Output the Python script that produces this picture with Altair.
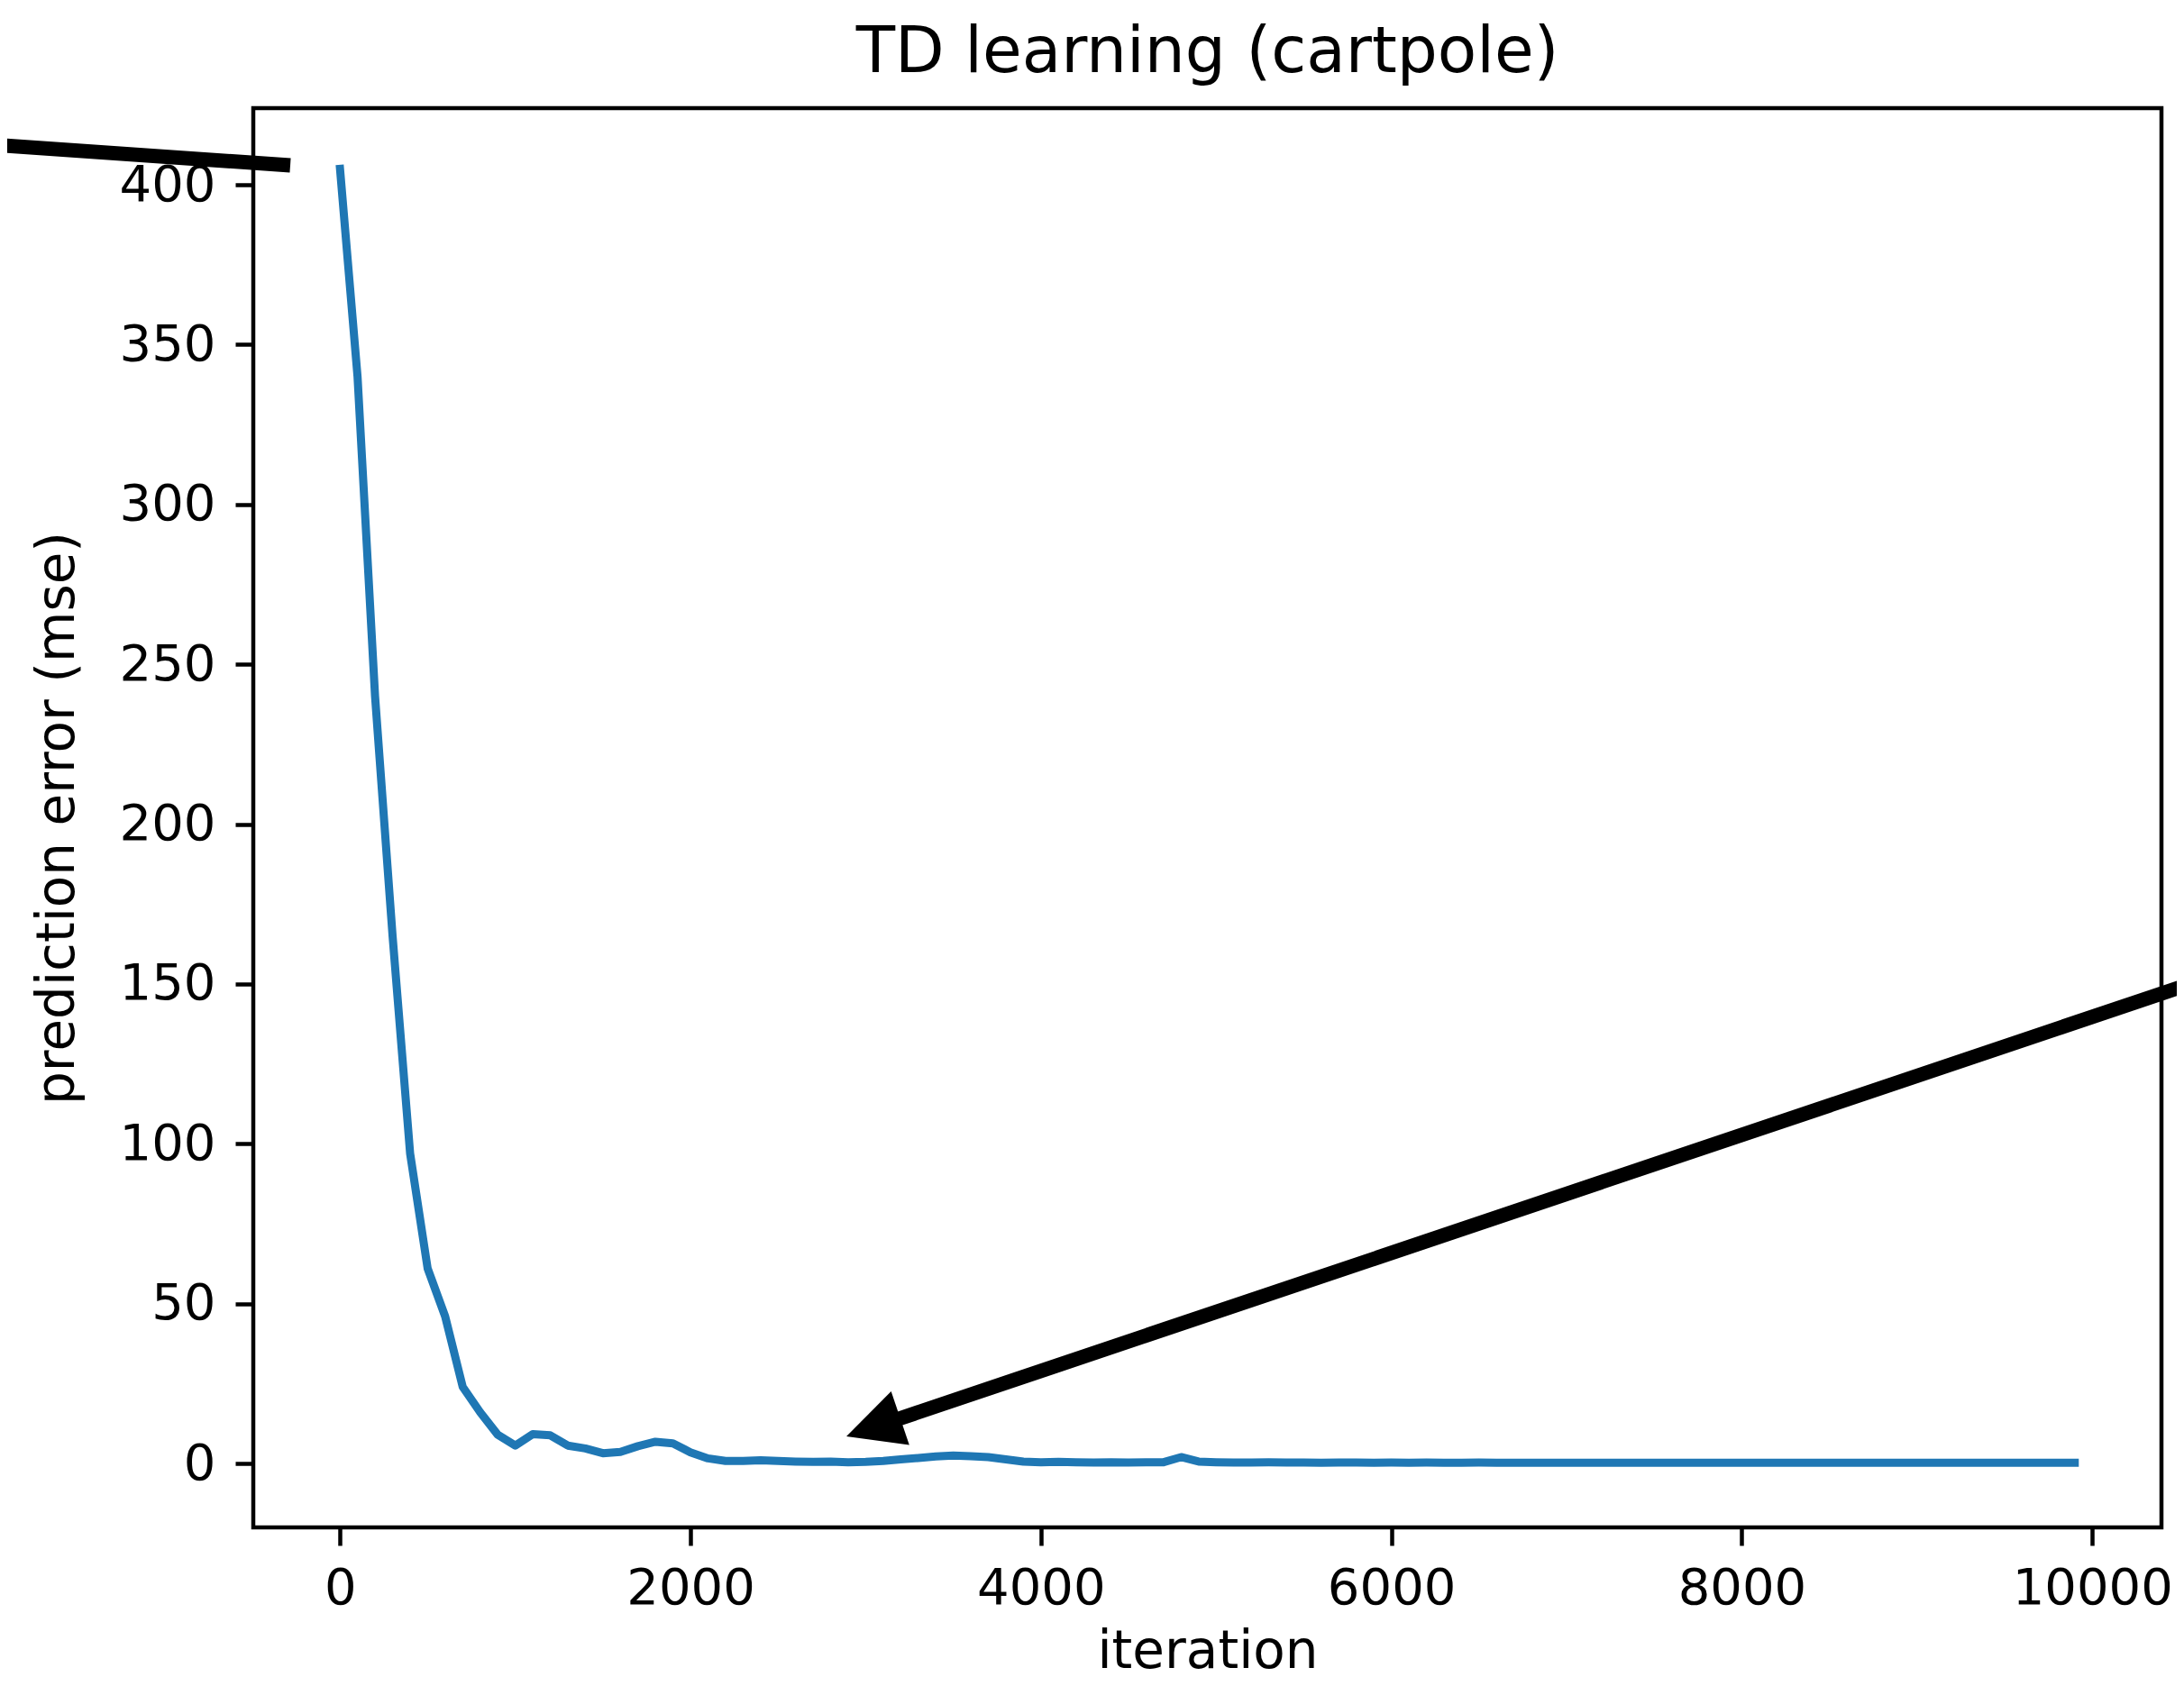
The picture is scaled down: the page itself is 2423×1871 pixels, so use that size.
import altair as alt
import pandas as pd

# ---- data ----
iterations = list(range(0, 10000, 100))
mse = [
    405, 340, 240, 165, 97, 61, 46, 24, 16, 9,
    5.6, 9.2, 8.8, 5.6, 4.7, 3.2, 3.6, 5.4, 6.8, 6.3,
    3.5, 1.6, 0.8, 0.8, 1.0, 0.8, 0.6, 0.5, 0.6, 0.4,
    0.5, 0.8, 1.3, 1.7, 2.2, 2.5, 2.3, 2.0, 1.3, 0.6,
    0.4, 0.5, 0.4, 0.3, 0.4, 0.3, 0.4, 0.4, 2.0, 0.6,
    0.4, 0.3, 0.3, 0.35, 0.3, 0.3, 0.25, 0.3, 0.3, 0.25,
    0.3, 0.25, 0.3, 0.25, 0.25, 0.3, 0.25, 0.25, 0.2, 0.25,
    0.25, 0.2, 0.25, 0.2, 0.25, 0.2, 0.2, 0.25, 0.2, 0.2,
    0.2, 0.25, 0.2, 0.2, 0.2, 0.2, 0.25, 0.2, 0.2, 0.2,
    0.2, 0.2, 0.2, 0.2, 0.2, 0.2, 0.2, 0.2, 0.2, 0.2,
]

x_ticks = [0, 2000, 4000, 6000, 8000, 10000]
y_ticks = [0, 50, 100, 150, 200, 250, 300, 350, 400]

# annotation arrows, in data units (iteration, mse)
shaft_x = [-2146, 10611]
shaft_y = [413.2, 151.0]
shaft_x2 = [-284, 3147]
shaft_y2 = [406.1, 13.2]
head_x = [2890]
head_y = [8.5]

FONT = "DejaVu Sans"

line_df = pd.DataFrame({"iteration": iterations, "mse": mse})
shaft_df = pd.DataFrame({"iteration": shaft_x, "mse": shaft_y,
                         "iteration2": shaft_x2, "mse2": shaft_y2})
head_df = pd.DataFrame({"iteration": head_x, "mse": head_y})

xscale = alt.Scale(domain=[-495, 10395], nice=False, zero=False)
yscale = alt.Scale(domain=[-20, 424], nice=False, zero=False)

xaxis = alt.Axis(
    values=x_ticks, format="d", grid=False, domain=False,
    labelFont=FONT, labelFontSize=56, labelColor="black", labelPadding=20,
    tickSize=20, tickWidth=4.5, tickColor="black",
    title="iteration", titleFont=FONT, titleFontSize=58,
    titleFontWeight="normal", titleColor="black",
    titleBaseline="alphabetic", titleY=155,
)
yaxis = alt.Axis(
    values=y_ticks, format="d", grid=False, domain=False,
    labelFont=FONT, labelFontSize=56, labelColor="black", labelPadding=22,
    tickSize=20, tickWidth=4.5, tickColor="black",
    title="prediction error (mse)", titleFont=FONT, titleFontSize=58,
    titleFontWeight="normal", titleColor="black",
    titleBaseline="alphabetic", titleAngle=270, titleX=-200, titleY=787.5,
)

line = alt.Chart(line_df).mark_line(
    color="#1f77b4", strokeWidth=9, strokeCap="square", strokeJoin="round"
).encode(
    x=alt.X("iteration:Q", scale=xscale, axis=xaxis),
    y=alt.Y("mse:Q", scale=yscale, axis=yaxis),
)

shafts = alt.Chart(shaft_df).mark_rule(
    color="black", strokeWidth=16, strokeCap="butt"
).encode(
    x=alt.X("iteration:Q", scale=xscale),
    y=alt.Y("mse:Q", scale=yscale),
    x2="iteration2:Q",
    y2="mse2:Q",
)

head = alt.Chart(head_df).mark_point(
    shape="M0,0L2,-1L2,1Z", size=3969, filled=True, color="black",
    opacity=1, strokeWidth=0, angle=341.35
).encode(
    x=alt.X("iteration:Q", scale=xscale),
    y=alt.Y("mse:Q", scale=yscale),
)

chart = alt.layer(line, shafts, head).properties(
    width=2117,
    height=1575,
    autosize=alt.AutoSizeParams(type="none"),
    padding={"left": 273, "top": 112, "right": 17, "bottom": 168},
    title=alt.TitleParams(
        "TD learning (cartpole)", font=FONT, fontSize=71, fontWeight="normal",
        color="black", anchor="middle", frame="group", baseline="alphabetic",
        offset=-31,
    ),
).configure_view(stroke="black", strokeWidth=4.5)

chart.save("out.html", embed_options={"renderer": "svg", "actions": False})
